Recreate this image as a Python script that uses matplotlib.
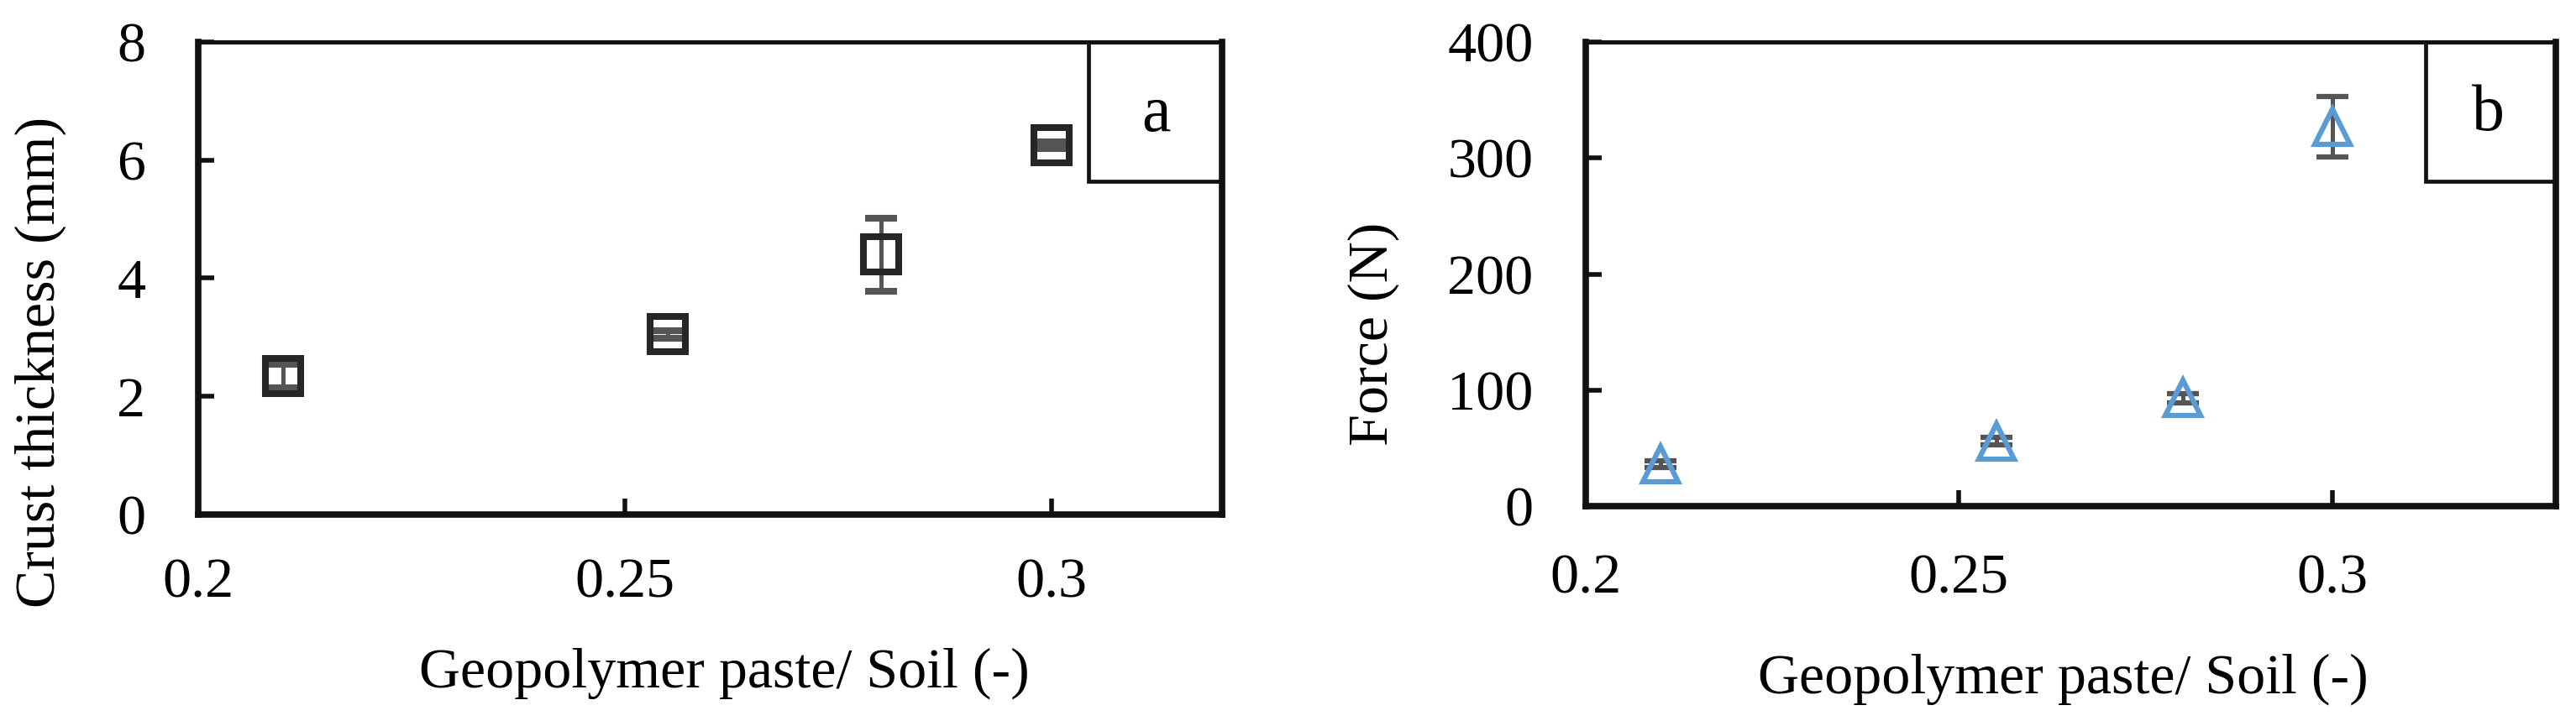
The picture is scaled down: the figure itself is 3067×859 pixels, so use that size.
import numpy as np
from matplotlib import pyplot as plt
from matplotlib.patches import Rectangle

plt.rcParams['font.family'] = ['Liberation Serif', 'DejaVu Serif']

# Panel a: crust thickness
ratio_a = [0.21, 0.255, 0.28, 0.30]
thick = [2.34, 3.05, 4.40, 6.25]
thick_err = [0.20, 0.06, 0.62, 0.06]

# Panel b: force
ratio_b = [0.21, 0.255, 0.28, 0.30]
force = [36, 56, 93, 327]
force_err = [3, 3, 4, 26]

fig = plt.figure(figsize=(30.67, 8.59), dpi=100)
ax1 = fig.add_axes([0.0769, 0.2864, 0.3975, 0.6554])
ax2 = fig.add_axes([0.6156, 0.2980, 0.3766, 0.6438])

fs = 49

def style(ax, xlim, ylim, yticks, xpad):
    ax.set_xlim(*xlim)
    ax.set_ylim(*ylim)
    ax.set_xticks([0.2, 0.25, 0.3])
    ax.set_xticklabels(['0.2', '0.25', '0.3'])
    ax.set_yticks(yticks)
    ax.tick_params(direction='in', length=14, width=4, labelsize=fs, color='#111111')
    ax.tick_params(axis='y', pad=45)
    ax.tick_params(axis='x', pad=xpad)
    for s in ['left', 'bottom', 'right']:
        ax.spines[s].set_linewidth(5.5)
        ax.spines[s].set_color('#111111')
    ax.spines['top'].set_linewidth(3.6)
    ax.spines['top'].set_color('#111111')

style(ax1, (0.2, 0.32), (0, 8), [0, 2, 4, 6, 8], 37)
style(ax2, (0.2, 0.33), (0, 400), [0, 100, 200, 300, 400], 41)

ax1.errorbar(ratio_a, thick, yerr=thick_err, fmt='s', ms=30, mfc='none',
             mec='#262626', mew=5.8, ecolor='#555555', elinewidth=3.6,
             capsize=14, capthick=5.8)
ax2.errorbar(ratio_b, force, yerr=force_err, fmt='^', ms=30, mfc='none',
             mec='#5B9BD5', mew=4.5, ecolor='#555555', elinewidth=3.6,
             capsize=14, capthick=5.8)

# panel letter boxes
ax1.add_patch(Rectangle((0.8696, 0.705), 0.1304, 0.295, transform=ax1.transAxes,
                        fill=False, lw=3.4, ec='#111111', clip_on=False))
ax1.text(0.936, 0.812, 'a', transform=ax1.transAxes, ha='center', va='baseline', fontsize=56)
ax2.add_patch(Rectangle((0.866, 0.700), 0.134, 0.300, transform=ax2.transAxes,
                        fill=False, lw=3.4, ec='#111111', clip_on=False))
ax2.text(0.93, 0.810, 'b', transform=ax2.transAxes, ha='center', va='baseline', fontsize=56)

ax1.set_xlabel('Geopolymer paste/ Soil (-)', fontsize=fs, va='baseline')
ax1.xaxis.set_label_coords(0.514, -0.366)
ax1.set_ylabel('Crust thickness (mm)', fontsize=fs, va='center')
ax1.yaxis.set_label_coords(-0.154, 0.323)

ax2.set_xlabel('Geopolymer paste/ Soil (-)', fontsize=fs, va='baseline')
ax2.xaxis.set_label_coords(0.492, -0.403)
ax2.set_ylabel('Force (N)', fontsize=fs, va='center')
ax2.yaxis.set_label_coords(-0.219, 0.371)

fig.savefig('out.png', dpi=100)
